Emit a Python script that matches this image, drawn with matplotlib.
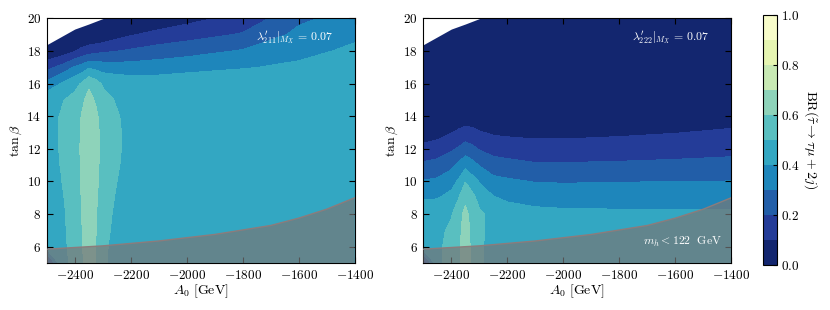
"""Two BR contour panels over (A0, tan beta) with a shared colorbar."""
import numpy as np
import matplotlib

matplotlib.use("Agg")
import matplotlib.pyplot as plt
from matplotlib.ticker import FuncFormatter

plt.rcParams["mathtext.fontset"] = "cm"
plt.rcParams["font.family"] = "serif"

# grid
A0 = [-2500, -2450, -2400, -2375, -2350, -2325, -2300, -2250, -2200, -2100, -2000, -1800, -1600, -1400]
TANB = [5, 6, 7, 8, 9, 10, 11, 12, 13, 14, 15, 16, 17, 18, 19, 20]

# BR(stau -> tau mu + 2j), lambda'_211 = 0.07 (rows = tan beta, cols = A0)
BR_211 = [
    [0.10, 0.46, 0.53, 0.58, 0.66, 0.595, 0.52, 0.46, 0.45, 0.45, 0.45, 0.45, 0.45, 0.45],
    [0.46, 0.47, 0.535, 0.59, 0.665, 0.598, 0.525, 0.46, 0.45, 0.45, 0.45, 0.45, 0.45, 0.45],
    [0.46, 0.475, 0.54, 0.595, 0.67, 0.605, 0.535, 0.47, 0.45, 0.45, 0.45, 0.45, 0.45, 0.45],
    [0.46, 0.475, 0.545, 0.601, 0.675, 0.61, 0.54, 0.48, 0.45, 0.45, 0.45, 0.45, 0.45, 0.45],
    [0.465, 0.485, 0.55, 0.605, 0.68, 0.615, 0.55, 0.49, 0.455, 0.45, 0.45, 0.45, 0.45, 0.45],
    [0.47, 0.495, 0.555, 0.61, 0.685, 0.625, 0.56, 0.501, 0.46, 0.45, 0.45, 0.45, 0.45, 0.45],
    [0.47, 0.502, 0.56, 0.61, 0.685, 0.63, 0.565, 0.51, 0.465, 0.45, 0.45, 0.45, 0.45, 0.45],
    [0.47, 0.505, 0.56, 0.615, 0.685, 0.635, 0.57, 0.515, 0.47, 0.45, 0.45, 0.45, 0.45, 0.45],
    [0.47, 0.505, 0.56, 0.61, 0.68, 0.63, 0.57, 0.515, 0.47, 0.45, 0.45, 0.45, 0.45, 0.45],
    [0.465, 0.505, 0.555, 0.605, 0.67, 0.62, 0.56, 0.51, 0.465, 0.45, 0.45, 0.45, 0.45, 0.45],
    [0.479, 0.49, 0.53, 0.58, 0.63, 0.59, 0.54, 0.49, 0.46, 0.45, 0.45, 0.45, 0.45, 0.45],
    [0.327, 0.401, 0.47, 0.51, 0.585, 0.542, 0.487, 0.469, 0.456, 0.452, 0.464, 0.475, 0.46, 0.45],
    [0.168, 0.227, 0.31, 0.342, 0.385, 0.373, 0.355, 0.344, 0.344, 0.352, 0.366, 0.392, 0.42, 0.44],
    [0.01, 0.037, 0.094, 0.125, 0.15, 0.169, 0.181, 0.197, 0.214, 0.242, 0.263, 0.308, 0.37, 0.42],
    [0.01, 0.01, 0.01, 0.01, 0.01, 0.01, 0.02, 0.062, 0.092, 0.132, 0.159, 0.21, 0.325, 0.38],
    [0.01, 0.01, 0.01, 0.01, 0.01, 0.01, 0.01, 0.01, 0.01, 0.026, 0.068, 0.131, 0.28, 0.34],
]

# lambda'_222 = 0.07
BR_222 = [
    [0.10, 0.48, 0.53, 0.58, 0.66, 0.58, 0.515, 0.46, 0.46, 0.46, 0.46, 0.46, 0.46, 0.46],
    [0.48, 0.485, 0.525, 0.575, 0.655, 0.575, 0.515, 0.465, 0.46, 0.46, 0.46, 0.46, 0.46, 0.46],
    [0.48, 0.48, 0.515, 0.565, 0.65, 0.57, 0.52, 0.47, 0.455, 0.46, 0.455, 0.455, 0.455, 0.455],
    [0.47, 0.47, 0.494, 0.54, 0.638, 0.55, 0.52, 0.47, 0.45, 0.43, 0.422, 0.418, 0.416, 0.414],
    [0.389, 0.395, 0.433, 0.496, 0.5685, 0.535, 0.461, 0.408, 0.383, 0.363, 0.359, 0.358, 0.358, 0.358],
    [0.307, 0.319, 0.3625, 0.4125, 0.497, 0.44, 0.395, 0.331, 0.317, 0.296, 0.293, 0.296, 0.301, 0.302],
    [0.219, 0.234, 0.276, 0.319, 0.371, 0.337, 0.295, 0.245, 0.232, 0.211, 0.211, 0.216, 0.223, 0.232],
    [0.13, 0.147, 0.183, 0.211, 0.246, 0.224, 0.192, 0.162, 0.153, 0.141, 0.141, 0.148, 0.158, 0.17],
    [0.04, 0.062, 0.096, 0.118, 0.138, 0.127, 0.108, 0.087, 0.081, 0.073, 0.073, 0.084, 0.097, 0.114],
    [0.02, 0.02, 0.02, 0.028, 0.04, 0.037, 0.03, 0.02, 0.02, 0.02, 0.02, 0.02, 0.03, 0.059],
    [0.02, 0.02, 0.02, 0.02, 0.02, 0.02, 0.02, 0.02, 0.02, 0.02, 0.02, 0.02, 0.02, 0.02],
    [0.02, 0.02, 0.02, 0.02, 0.02, 0.02, 0.02, 0.02, 0.02, 0.02, 0.02, 0.02, 0.02, 0.02],
    [0.02, 0.02, 0.02, 0.02, 0.02, 0.02, 0.02, 0.02, 0.02, 0.02, 0.02, 0.02, 0.02, 0.02],
    [0.02, 0.02, 0.02, 0.02, 0.02, 0.02, 0.02, 0.02, 0.02, 0.02, 0.02, 0.02, 0.02, 0.02],
    [0.02, 0.02, 0.02, 0.02, 0.02, 0.02, 0.02, 0.02, 0.02, 0.02, 0.02, 0.02, 0.02, 0.02],
    [0.02, 0.02, 0.02, 0.02, 0.02, 0.02, 0.02, 0.02, 0.02, 0.02, 0.02, 0.02, 0.02, 0.02],
]

# m_h < 122 GeV boundary
MH_A0 = [-2500, -2300, -2100, -1900, -1700, -1600, -1500, -1400]
MH_TANB = [5.85, 6.05, 6.35, 6.75, 7.3, 7.75, 8.3, 9.0]

# no-data corner (top left)
NODATA_A0 = [-2500, -2400, -2350, -2297]
NODATA_TANB = [18.38, 19.34, 19.65, 20.0]

LEVELS = [0.0, 0.1, 0.2, 0.3, 0.4, 0.5, 0.6, 0.7, 0.8, 0.9, 1.0]
CBAR_TICKS = [0.0, 0.2, 0.4, 0.6, 0.8, 1.0]

math_fmt = FuncFormatter(lambda v, p: f"${v:g}$")


def draw_panel(ax, z, label, show_mh=False):
    cs = ax.contourf(A0, TANB, np.array(z), levels=LEVELS, cmap="YlGnBu_r",
                     vmin=0, vmax=1, zorder=1)
    ax.fill_between(NODATA_A0, NODATA_TANB, 20, color="white", lw=0, zorder=2)
    ax.fill_between(MH_A0, 5, MH_TANB, facecolor="#777777", alpha=0.7, lw=0, zorder=3)
    ax.plot(MH_A0, MH_TANB, color="#8c7c7c", lw=1.0, zorder=3)
    ax.set_xlim(-2500, -1400)
    ax.set_ylim(5, 20)
    ax.set_xticks([-2400, -2200, -2000, -1800, -1600, -1400])
    ax.set_yticks([6, 8, 10, 12, 14, 16, 18, 20])
    ax.xaxis.set_major_formatter(math_fmt)
    ax.yaxis.set_major_formatter(math_fmt)
    ax.tick_params(direction="in", top=True, right=True, length=4, width=0.8,
                   labelsize=9.5, pad=4)
    ax.set_xlabel(r"$A_0\ [\mathrm{GeV}]$", fontsize=10, labelpad=1)
    ax.set_ylabel(r"$\tan\beta$", fontsize=10, labelpad=2)
    ax.text(0.93, 0.922, label, transform=ax.transAxes, ha="right", va="center",
            color="white", fontsize=8.5, zorder=5)
    if show_mh:
        ax.text(0.968, 0.087, r"$m_h < 122\ \ \mathrm{GeV}$", transform=ax.transAxes,
                ha="right", va="center", color="white", fontsize=8.5, zorder=5)
    return cs


fig = plt.figure(figsize=(8.3, 3.1), dpi=100)
ax1 = fig.add_axes([0.0563, 0.1516, 0.3711, 0.7894])
ax2 = fig.add_axes([0.5100, 0.1516, 0.3711, 0.7894])
cax = fig.add_axes([0.9189, 0.1452, 0.0176, 0.8065])

cs = draw_panel(ax1, BR_211, r"$\lambda^{\prime}_{211}|_{M_X}\,=\,0.07$")
draw_panel(ax2, BR_222, r"$\lambda^{\prime}_{222}|_{M_X}\,=\,0.07$", show_mh=True)

cb = fig.colorbar(cs, cax=cax, ticks=CBAR_TICKS)
cb.ax.yaxis.set_major_formatter(FuncFormatter(lambda v, p: f"${v:.1f}$"))
cb.ax.tick_params(direction="in", length=3, width=0.8, labelsize=9.5, pad=3)
cb.outline.set_linewidth(0.8)
cb.set_label(r"$\mathrm{BR}(\tilde{\tau}\rightarrow\tau\mu+2j)$", rotation=270,
             fontsize=10, labelpad=14)

fig.savefig("out.png", dpi=100)
